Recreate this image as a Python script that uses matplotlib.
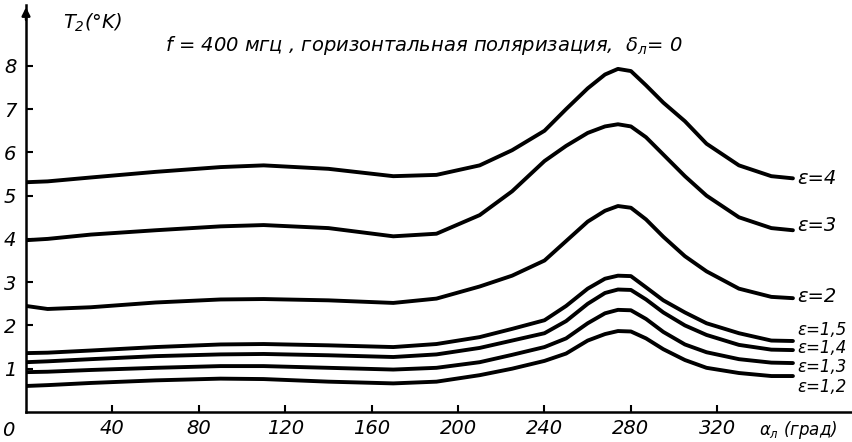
import matplotlib
matplotlib.use("Agg")
import matplotlib.pyplot as plt

# angle of the line of sight, degrees
alpha = [0, 10, 30, 60, 90, 110, 140, 170, 190, 210, 225, 240, 250, 260, 268, 274, 280, 287, 295, 305, 315, 330, 345, 355]

# brightness temperature T2 (K) for each permittivity
t_eps_4 = [5.31, 5.33, 5.42, 5.55, 5.66, 5.70, 5.62, 5.45, 5.48, 5.70, 6.05, 6.50, 7.00, 7.48, 7.80, 7.93, 7.88, 7.55, 7.15, 6.72, 6.20, 5.70, 5.45, 5.40]
t_eps_3 = [3.97, 4.00, 4.10, 4.20, 4.29, 4.32, 4.25, 4.06, 4.12, 4.55, 5.10, 5.80, 6.15, 6.45, 6.60, 6.65, 6.60, 6.35, 5.95, 5.45, 5.00, 4.50, 4.25, 4.20]
t_eps_2 = [2.45, 2.38, 2.42, 2.53, 2.60, 2.61, 2.58, 2.52, 2.62, 2.90, 3.15, 3.50, 3.95, 4.40, 4.65, 4.76, 4.72, 4.45, 4.05, 3.60, 3.25, 2.85, 2.66, 2.63]
t_eps_15 = [1.36, 1.37, 1.42, 1.50, 1.56, 1.57, 1.54, 1.50, 1.57, 1.73, 1.92, 2.12, 2.45, 2.85, 3.08, 3.15, 3.14, 2.88, 2.58, 2.30, 2.05, 1.82, 1.65, 1.64]
t_eps_14 = [1.15, 1.17, 1.22, 1.29, 1.33, 1.34, 1.31, 1.27, 1.33, 1.48, 1.65, 1.82, 2.10, 2.50, 2.75, 2.83, 2.82, 2.60, 2.30, 2.00, 1.78, 1.55, 1.44, 1.43]
t_eps_13 = [0.92, 0.93, 0.97, 1.02, 1.06, 1.06, 1.02, 0.98, 1.02, 1.15, 1.32, 1.50, 1.70, 2.05, 2.28, 2.36, 2.35, 2.15, 1.85, 1.56, 1.38, 1.22, 1.14, 1.13]
t_eps_12 = [0.60, 0.62, 0.67, 0.73, 0.77, 0.76, 0.70, 0.66, 0.70, 0.85, 1.00, 1.18, 1.35, 1.65, 1.80, 1.87, 1.86, 1.70, 1.45, 1.20, 1.02, 0.90, 0.83, 0.83]

curve_labels = ["ε=4", "ε=3", "ε=2", "ε=1,5", "ε=1,4", "ε=1,3", "ε=1,2"]
x_ticks = [40, 80, 120, 160, 200, 240, 280, 320]
y_ticks = [1, 2, 3, 4, 5, 6, 7, 8]

plt.rcParams['font.family'] = ['DejaVu Sans']
plt.rcParams['font.style'] = 'italic'
plt.rcParams['mathtext.fontset'] = 'dejavusans'

fig = plt.figure(figsize=(8.53, 4.42), dpi=100)
ax = fig.add_axes([0.0305, 0.068, 0.97, 0.92])

curves = [t_eps_4, t_eps_3, t_eps_2, t_eps_15, t_eps_14, t_eps_13, t_eps_12]
for values in curves:
    ax.plot(alpha, values, color='black', lw=2.8, solid_capstyle='round', solid_joinstyle='round')

# label positions next to curve ends (y in data units)
label_y = [5.4, 4.3, 2.68, 1.9, 1.48, 1.04, 0.58]
label_size = [14, 14, 14, 12, 12, 12, 12]
for text, y, s in zip(curve_labels, label_y, label_size):
    ax.text(357, y, text, fontsize=s, va='center', ha='left')

ax.set_xlim(0, 383)
ax.set_ylim(0, 9.4)

for side in ['top', 'right']:
    ax.spines[side].set_visible(False)
ax.spines['left'].set_linewidth(1.8)
ax.spines['bottom'].set_linewidth(1.8)

ax.set_xticks(x_ticks)
ax.set_xticklabels([str(v) for v in x_ticks], fontsize=14)
ax.set_yticks(y_ticks)
ax.set_yticklabels([str(v) for v in y_ticks], fontsize=14)
ax.tick_params(axis='both', direction='in', length=5, width=1.5)
ax.tick_params(axis='x', pad=5)
ax.tick_params(axis='y', pad=7)

# arrow on top of the vertical axis
ax.annotate('', xy=(0, 9.42), xytext=(0, 9.0), xycoords='data',
            arrowprops=dict(arrowstyle='-|>', color='black', lw=1.8, mutation_scale=12),
            annotation_clip=False)

ax.text(-0.022, -0.045, "0", transform=ax.transAxes, fontsize=14, ha='center', va='center')
ax.text(0.045, 0.985, r"$T_2$(°K)", transform=ax.transAxes, fontsize=14, ha='left', va='top')
ax.text(0.886, -0.045, r"$\alpha_л$ (град)", transform=ax.transAxes, fontsize=12, ha='left', va='center')

ax.text(184, 8.48, r"f = 400 мгц , горизонтальная поляризация,  $\delta_л$= 0",
        fontsize=14, ha='center', va='center')

fig.savefig("out.png", dpi=100)
